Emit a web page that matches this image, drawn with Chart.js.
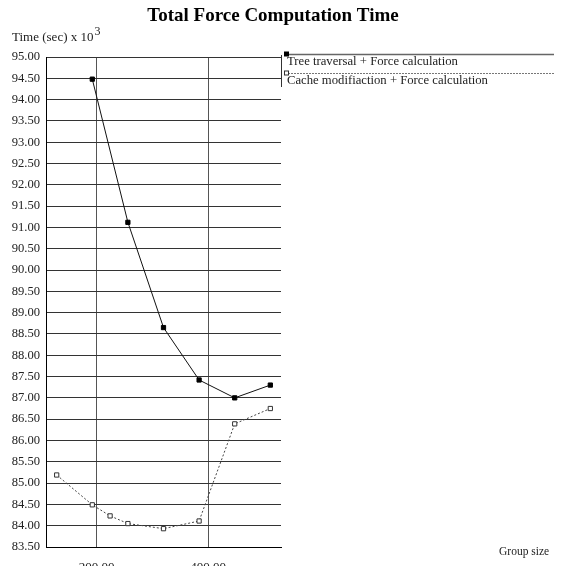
<!DOCTYPE html>
<html>
<head>
<meta charset="utf-8">
<script src="https://cdn.jsdelivr.net/npm/chart.js@4"></script>
<style>
  html, body { margin: 0; padding: 0; background: #fff; }
  canvas { display: block; }
</style>
</head>
<body>
<canvas id="chart" width="566" height="566"></canvas>
<script>
// Group sizes (x) and total force computation time in 10^3 s (y)
const treeGroupSizes = [192, 256, 320, 384, 448, 512];
const treeTimes = [94.48, 91.12, 88.65, 87.42, 87.00, 87.30];
const cacheGroupSizes = [128, 192, 224, 256, 320, 384, 448, 512];
const cacheTimes = [85.19, 84.49, 84.23, 84.05, 83.93, 84.11, 86.39, 86.75];
const xTickValues = [200, 400];
const seriesLabels = ['Tree traversal + Force calculation', 'Cache modifiaction + Force calculation'];
const chartTitle = 'Total Force Computation Time';
const yAxisTitle = 'Time (sec) x 10';
const yAxisExponent = '3';
const xAxisTitle = 'Group size';

const SERIF = '"Liberation Serif", "Times New Roman", serif';

const toPoints = (xs, ys) => xs.map((x, i) => ({ x, y: ys[i] }));

// Title, axis titles and the legend drawn around the plot area
const annotations = {
  id: 'annotations',
  afterDraw(chart) {
    const ctx = chart.ctx;
    const area = chart.chartArea;
    ctx.save();
    ctx.fillStyle = '#000';
    ctx.textBaseline = 'alphabetic';

    ctx.font = 'bold 19px ' + SERIF;
    ctx.textAlign = 'center';
    ctx.fillText(chartTitle, 273, 21);

    ctx.fillStyle = '#222';
    ctx.textAlign = 'left';
    ctx.font = '13px ' + SERIF;
    ctx.fillText(yAxisTitle, 12, 41);
    const w = ctx.measureText(yAxisTitle).width;
    ctx.font = '12px ' + SERIF;
    ctx.fillText(yAxisExponent, 12 + w + 1, 35);

    ctx.font = '11.5px ' + SERIF;
    ctx.fillText(xAxisTitle, 499, 555);

    // legend
    const lx = area.right + 5, rx = 554;
    const ds = chart.data.datasets;
    const rows = [54, 73];
    rows.forEach((y, i) => {
      const d = ds[i];
      ctx.strokeStyle = i === 0 ? '#666' : '#777';
      ctx.lineWidth = i === 0 ? 1.5 : 1;
      ctx.setLineDash(i === 0 ? [] : [2, 1]);
      ctx.beginPath();
      ctx.moveTo(lx + 2, y + 0.5);
      ctx.lineTo(rx, y + 0.5);
      ctx.stroke();
      ctx.setLineDash([]);
      ctx.fillStyle = d.pointBackgroundColor;
      ctx.strokeStyle = d.pointBorderColor;
      ctx.lineWidth = 1;
      ctx.fillRect(lx - 1.5, y - 2, 4, 4);
      ctx.strokeRect(lx - 1.5, y - 2, 4, 4);
      ctx.fillStyle = '#222';
      ctx.font = '12.7px ' + SERIF;
      ctx.fillText(d.label, lx + 1, y + 11);
    });
    ctx.strokeStyle = '#333';
    ctx.lineWidth = 1;
    ctx.beginPath();
    ctx.moveTo(area.right + 0.5, 55);
    ctx.lineTo(area.right + 0.5, 87);
    ctx.stroke();
    ctx.restore();
  }
};

new Chart(document.getElementById('chart'), {
  type: 'scatter',
  data: {
    datasets: [
      {
        label: seriesLabels[0],
        data: toPoints(treeGroupSizes, treeTimes),
        showLine: true,
        borderColor: '#111',
        borderWidth: 1,
        pointStyle: 'rect',
        pointRadius: 3,
        pointBackgroundColor: '#000',
        pointBorderColor: '#000',
        pointBorderWidth: 1
      },
      {
        label: seriesLabels[1],
        data: toPoints(cacheGroupSizes, cacheTimes),
        showLine: true,
        borderColor: '#444',
        borderWidth: 1,
        borderDash: [2, 2],
        pointStyle: 'rect',
        pointRadius: 3,
        pointBackgroundColor: '#fff',
        pointBorderColor: '#333',
        pointBorderWidth: 1
      }
    ]
  },
  options: {
    responsive: false,
    animation: false,
    events: [],
    layout: { padding: { left: 0, right: 285, top: 57, bottom: 0 } },
    plugins: {
      legend: { display: false },
      title: { display: false },
      tooltip: { enabled: false }
    },
    scales: {
      x: {
        type: 'linear',
        min: 108.8,
        max: 531.2,
        afterBuildTicks(scale) { scale.ticks = xTickValues.map(v => ({ value: v })); },
        afterFit(scale) { scale.height = 19; },
        ticks: {
          padding: 13,
          color: '#222',
          font: { family: SERIF, size: 13 },
          callback: v => Number(v).toFixed(2)
        },
        grid: { color: '#555', lineWidth: 1, drawTicks: false },
        border: { color: '#000', width: 1 }
      },
      y: {
        min: 83.5,
        max: 95,
        afterFit(scale) { scale.width = 46; },
        ticks: {
          stepSize: 0.5,
          padding: 6,
          color: '#222',
          font: { family: SERIF, size: 12.6 },
          callback: v => Number(v).toFixed(2)
        },
        grid: { color: '#333', lineWidth: 1, drawTicks: false },
        border: { color: '#000', width: 1 }
      }
    }
  },
  plugins: [annotations]
});
</script>
</body>
</html>
